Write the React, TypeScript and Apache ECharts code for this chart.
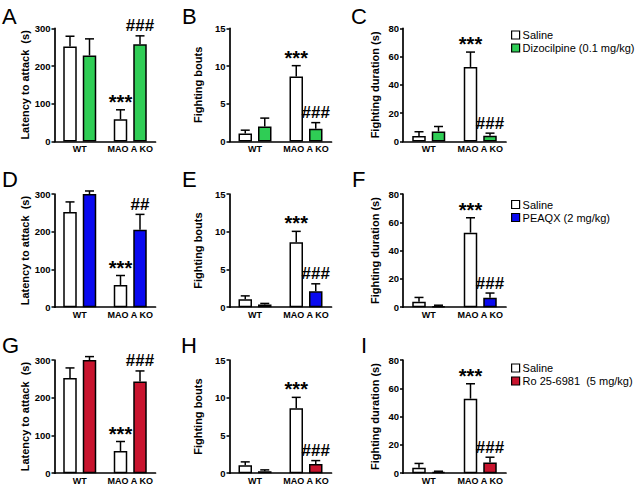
import React, { useEffect, useRef } from 'react';
import * as echarts from 'echarts';

// ---------- data ----------
const categories = ['WT', 'MAO A KO'];
const yTitles = ['Latency to attack  (s)', 'Fighting bouts', 'Fighting duration (s)'];
const yMax = [300, 15, 80];
const yInterval = [100, 5, 20];
const panelLetters = [
  ['A', 'B', 'C'],
  ['D', 'E', 'F'],
  ['G', 'H', 'I'],
];

// Saline groups (same animals shown in every row)
const salineLatency = [252, 59];
const salineLatencyErr = [27, 25];
const salineBouts = [1.05, 8.6];
const salineBoutsErr = [0.45, 1.45];
const salineDuration = [3.9, 52.7];
const salineDurationErr = [3.0, 10.5];

// Drugs
const drugNames = ['Dizocilpine (0.1 mg/kg)', 'PEAQX (2 mg/kg)', 'Ro 25-6981  (5 mg/kg)'];
const drugColors = ['#2fcd55', '#0a0af0', '#c8142e'];

const dizocilpineLatency = [228, 258];
const dizocilpineLatencyErr = [44, 22];
const dizocilpineBouts = [2.0, 1.7];
const dizocilpineBoutsErr = [1.1, 0.8];
const dizocilpineDuration = [7.1, 4.0];
const dizocilpineDurationErr = [3.5, 1.9];

const peaqxLatency = [300, 205];
const peaqxLatencyErr = [8, 41];
const peaqxBouts = [0.36, 2.1];
const peaqxBoutsErr = [0.14, 1.0];
const peaqxDuration = [0.7, 6.7];
const peaqxDurationErr = [0.7, 3.3];

const roLatency = [300, 243];
const roLatencyErr = [9, 28];
const roBouts = [0.26, 1.23];
const roBoutsErr = [0.18, 0.44];
const roDuration = [0.9, 7.5];
const roDurationErr = [0.5, 3.8];

// significance marks
const salineSig = ['', '***'];
const drugSigRows = [
  [['', '###'], ['', '###'], ['', '###']],
  [['', '##'], ['', '###'], ['', '###']],
  [['', '###'], ['', '###'], ['', '###']],
];

// ---------- layout ----------
const FONT = '"Liberation Sans", Arial, Helvetica, sans-serif';
const colLeft = [54.5, 229.5, 403];
const colWidth = [101, 102, 103];
const rowTop = [28.3, 194, 360];
const gridH = 113.2;
const nameGap = [22, 26.5, 22.5];
const letterX = [
  [2, 182, 351],
  [2, 182, 352],
  [2, 181, 361],
];
const letterY = [5, 168, 334];
const legendTop = [29.5, 199, 362.5];
const BAR_W = 13.5;
const BAR_GAP = 6;
const OFFSET = (BAR_W + BAR_GAP) / 2;

const salineVals = [salineLatency, salineBouts, salineDuration];
const salineErrs = [salineLatencyErr, salineBoutsErr, salineDurationErr];
const drugVals = [
  [dizocilpineLatency, dizocilpineBouts, dizocilpineDuration],
  [peaqxLatency, peaqxBouts, peaqxDuration],
  [roLatency, roBouts, roDuration],
];
const drugErrs = [
  [dizocilpineLatencyErr, dizocilpineBoutsErr, dizocilpineDurationErr],
  [peaqxLatencyErr, peaqxBoutsErr, peaqxDurationErr],
  [roLatencyErr, roBoutsErr, roDurationErr],
];

function errSeries(k: number, vals: number[], errs: number[], sigs: string[], offset: number, sigDy: number, sigFont: string) {
  return {
    type: 'custom',
    xAxisIndex: k,
    yAxisIndex: k,
    z: 5,
    silent: true,
    data: vals.map((v, i) => [i, v + errs[i]]),
    encode: { x: 0, y: 1 },
    renderItem: (params: any, api: any) => {
      const i = params.dataIndex;
      const base = api.coord([i, vals[i]]);
      const top = api.coord([i, vals[i] + errs[i]]);
      const x = base[0] + offset;
      const children: any[] = [
        { type: 'line', shape: { x1: x, y1: base[1], x2: x, y2: top[1] }, style: { stroke: '#000', lineWidth: 1.5 } },
        { type: 'line', shape: { x1: x - 4.5, y1: top[1], x2: x + 4.5, y2: top[1] }, style: { stroke: '#000', lineWidth: 1.5 } },
      ];
      if (sigs[i]) {
        children.push({
          type: 'text',
          style: {
            text: sigs[i],
            x,
            y: top[1] - sigDy,
            align: 'center',
            verticalAlign: 'middle',
            font: sigFont,
            fill: '#000',
          },
        });
      }
      return { type: 'group', children };
    },
  };
}

function buildOption() {
  const grid: any[] = [];
  const xAxis: any[] = [];
  const yAxis: any[] = [];
  const series: any[] = [];
  const title: any[] = [];
  const legend: any[] = [];

  for (let r = 0; r < 3; r++) {
    for (let c = 0; c < 3; c++) {
      const k = r * 3 + c;
      grid.push({ left: colLeft[c], top: rowTop[r], width: colWidth[c], height: gridH, containLabel: false });
      xAxis.push({
        gridIndex: k,
        type: 'category',
        data: categories,
        axisLine: { lineStyle: { color: '#000', width: 1.7 } },
        axisTick: { alignWithLabel: true, length: 3, lineStyle: { color: '#000', width: 1.5 } },
        axisLabel: { interval: 0, hideOverlap: false, color: '#000', fontSize: 9, fontWeight: 'bold', fontFamily: FONT, margin: 3 },
      });
      yAxis.push({
        gridIndex: k,
        type: 'value',
        min: 0,
        max: yMax[c],
        interval: yInterval[c],
        name: yTitles[c],
        nameLocation: 'middle',
        nameGap: nameGap[c],
        nameTextStyle: { color: '#000', fontSize: 11, fontWeight: 'bold', fontFamily: FONT },
        axisLine: { show: true, lineStyle: { color: '#000', width: 1.7 } },
        axisTick: { show: true, length: 3, lineStyle: { color: '#000', width: 1.5 } },
        axisLabel: { color: '#000', fontSize: 9.5, fontWeight: 'bold', fontFamily: FONT, margin: 4 },
        splitLine: { show: false },
      });
      series.push({
        type: 'bar',
        name: 'Saline',
        xAxisIndex: k,
        yAxisIndex: k,
        data: salineVals[c],
        barWidth: BAR_W,
        barGap: (BAR_GAP / BAR_W) * 100 + '%',
        itemStyle: { color: '#ffffff', borderColor: '#000', borderWidth: 1.5 },
      });
      series.push({
        type: 'bar',
        name: drugNames[r],
        xAxisIndex: k,
        yAxisIndex: k,
        data: drugVals[r][c],
        barWidth: BAR_W,
        barGap: (BAR_GAP / BAR_W) * 100 + '%',
        itemStyle: { color: drugColors[r], borderColor: '#000', borderWidth: 1.5 },
      });
      series.push(errSeries(k, salineVals[c], salineErrs[c], salineSig, -OFFSET, 8, `bold 20px ${FONT}`));
      series.push(errSeries(k, drugVals[r][c], drugErrs[r][c], drugSigRows[r][c], OFFSET, 10, `bold 17px ${FONT}`));

      title.push({
        text: panelLetters[r][c],
        left: letterX[r][c],
        top: letterY[r],
        padding: 0,
        textStyle: { color: '#000', fontSize: 22, fontWeight: 'normal', fontFamily: FONT },
      });
    }
    legend.push({
      data: ['Saline', drugNames[r]],
      orient: 'vertical',
      left: 511,
      top: legendTop[r],
      padding: 0,
      itemWidth: 8,
      itemHeight: 8,
      itemGap: 2,
      icon: 'rect',
      selectedMode: false,
      itemStyle: { borderColor: '#000', borderWidth: 1.2 },
      textStyle: { color: '#000', fontSize: 11, fontFamily: FONT, padding: [0, 0, 0, -2] },
    });
  }

  return {
    animation: false,
    backgroundColor: '#ffffff',
    title,
    legend,
    grid,
    xAxis,
    yAxis,
    series,
  };
}

export default function App() {
  const ref = useRef<HTMLDivElement>(null);
  useEffect(() => {
    if (!ref.current) return;
    const chart = echarts.init(ref.current, undefined, { renderer: 'svg' });
    chart.setOption(buildOption() as any);
    return () => chart.dispose();
  }, []);
  return (
    <div
      ref={ref}
      style={{ position: 'absolute', left: 0, top: 0, width: 640, height: 489, background: '#fff' }}
    />
  );
}
